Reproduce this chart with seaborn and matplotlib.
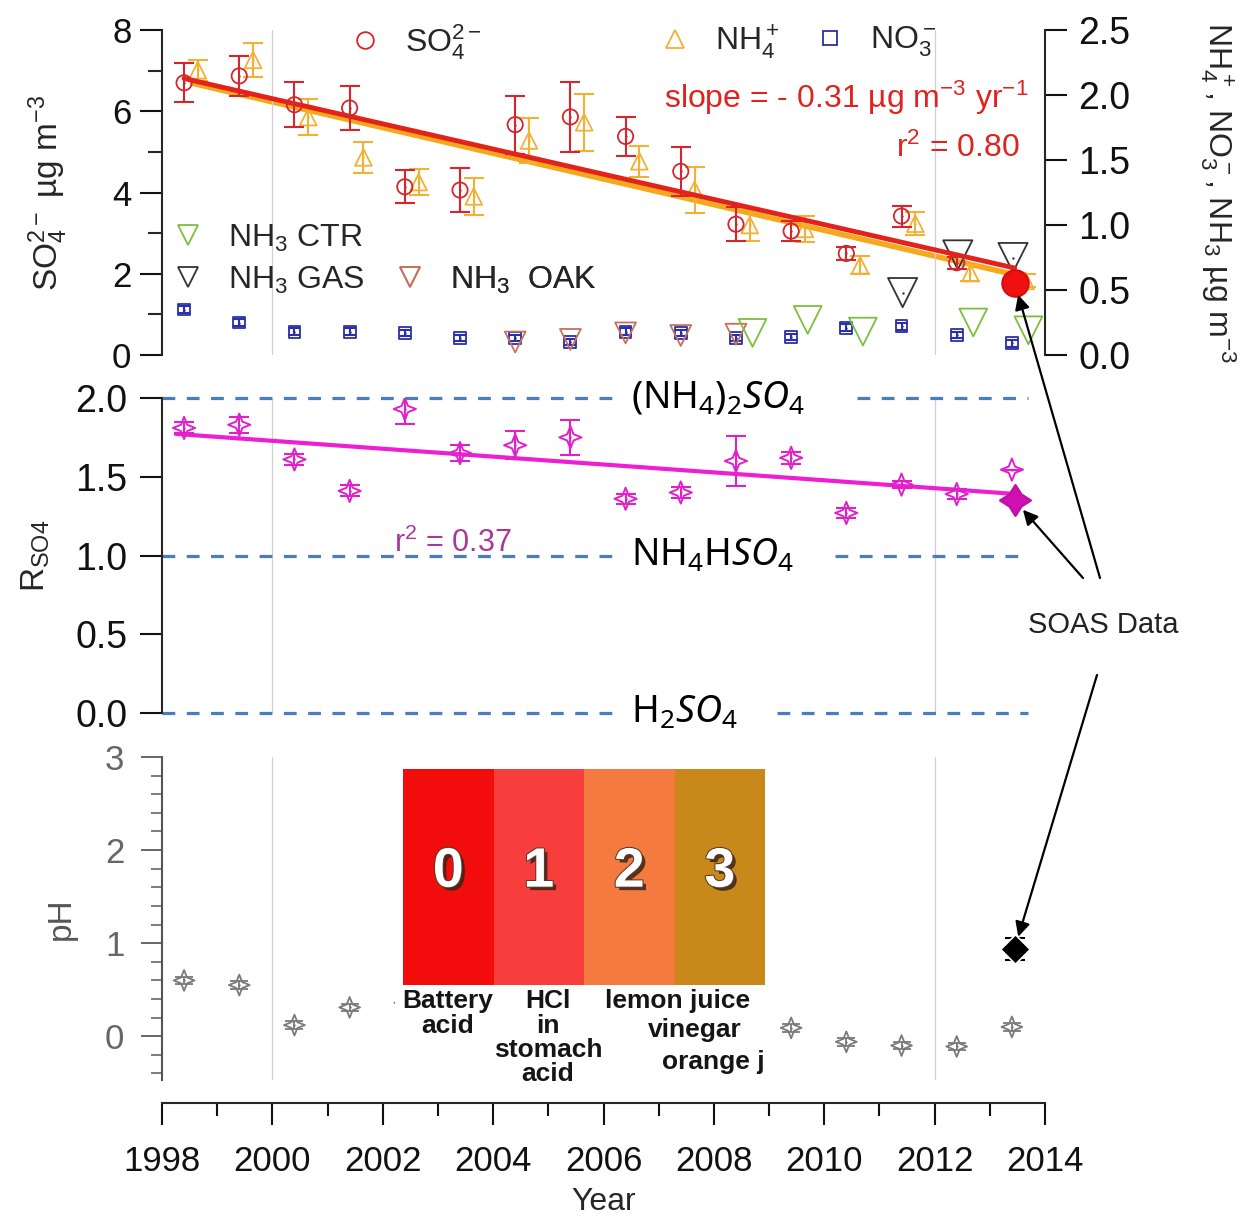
import numpy as np
import pandas as pd
import matplotlib
matplotlib.use("Agg")
import matplotlib.pyplot as plt
import matplotlib.patheffects as pe
from matplotlib.lines import Line2D
from matplotlib.path import Path
from matplotlib.ticker import MultipleLocator, FormatStrFormatter
import seaborn as sns

sns.set_theme(style="ticks")
plt.rcParams["font.family"] = ["Liberation Sans", "DejaVu Sans"]
plt.rcParams["mathtext.fontset"] = "custom"
plt.rcParams["mathtext.rm"] = "Liberation Sans"
plt.rcParams["mathtext.it"] = "Noto Sans:italic"
plt.rcParams["mathtext.default"] = "regular"
plt.rcParams["axes.linewidth"] = 1.5

# ---------------- data ----------------
years = np.arange(1998, 2013)          # annual means, 1998-2012
so4 = [6.70, 6.87, 6.16, 6.08, 4.14, 4.06, 5.67, 5.86, 5.38, 4.52, 3.22, 3.05, 2.50, 3.42, 2.27]
so4_err = [0.48, 0.49, 0.55, 0.53, 0.41, 0.55, 0.71, 0.86, 0.47, 0.60, 0.42, 0.25, 0.17, 0.26, 0.15]

nh4_years = np.arange(1998, 2014)
nh4 = [2.19, 2.27, 1.83, 1.52, 1.33, 1.22, 1.65, 1.79, 1.49, 1.27, 1.00, 0.97, 0.69, 1.01, 0.63, 0.57]
nh4_err = [0.08, 0.13, 0.14, 0.12, 0.10, 0.14, 0.17, 0.22, 0.12, 0.18, 0.12, 0.10, 0.07, 0.09, 0.06, 0.05]

no3_years = np.arange(1998, 2014)
no3 = [0.35, 0.25, 0.18, 0.18, 0.17, 0.13, 0.13, 0.10, 0.18, 0.17, 0.13, 0.14, 0.21, 0.22, 0.155, 0.09]
no3_err = [0.025] * 16

nh3_oak_years = [2004, 2005, 2006, 2007, 2008]
nh3_oak = [0.10, 0.12, 0.17, 0.15, 0.16]
nh3_ctr_years = [2008, 2009, 2010, 2012, 2013]
nh3_ctr = [0.17, 0.27, 0.18, 0.25, 0.19]
nh3_gas_years = [2011, 2012, 2013]
nh3_gas = [0.48, 0.77, 0.75]

rso4_years = np.arange(1998, 2014)
rso4 = [1.81, 1.83, 1.61, 1.41, 1.93, 1.65, 1.70, 1.75, 1.36, 1.40, 1.60, 1.62, 1.27, 1.45, 1.39, 1.545]
rso4_err = [0.035, 0.05, 0.035, 0.035, 0.095, 0.05, 0.09, 0.11, 0.03, 0.035, 0.16, 0.04, 0.03, 0.02, 0.03, 0.0]

ph_years = np.arange(1998, 2014)
ph = [0.60, 0.55, 0.12, 0.31, 0.36, np.nan, np.nan, np.nan, np.nan, np.nan, np.nan,
      0.09, -0.06, -0.10, -0.11, 0.10]
ph_err = [0.04] * 16

# SOAS campaign (2013)
soas_year = 2013
soas_so4 = 1.78
soas_rso4 = 1.35
soas_ph = 0.94
soas_ph_err = 0.12

so4_slope = -0.31          # µg m-3 yr-1
so4_r2 = 0.80
rso4_r2 = 0.37

ph_scale = [0, 1, 2, 3]
ph_scale_colors = ["#F20C0C", "#F83D3D", "#F57A40", "#C8891A"]

# ---------------- styling ----------------
c_so4 = "#D7262B"
c_nh4 = "#F2B134"
c_no3 = "#2B2FA8"
c_ctr = "#7CBF3E"
c_gas = "#333333"
c_oak = "#C8705E"
c_rso4 = "#E020C8"
c_rline = "#EE1FD3"
c_dash = "#4A7CC4"
c_ph = "#7A7A7A"

W, H = 1253, 1219
fig = plt.figure(figsize=(W / 100, H / 100), dpi=100)


def rect(x0, y0, x1, y1):
    return [x0 / W, 1 - y1 / H, (x1 - x0) / W, (y1 - y0) / H]


ax_top = fig.add_axes(rect(162, 30, 1045, 355))
ax_r = ax_top.twinx()
ax_mid = fig.add_axes(rect(162, 398, 1045, 713))
ax_bot = fig.add_axes(rect(162, 757, 1045, 1080))

ax_top.set_zorder(3)
ax_r.set_zorder(2)
for a in (ax_top, ax_r, ax_mid, ax_bot):
    a.patch.set_visible(False)
    a.set_xlim(1998, 2014)


def star_marker(r_in):
    d = r_in * 0.707
    verts = [(0, 1), (d, d), (1, 0), (d, -d), (0, -1), (-d, -d), (-1, 0), (-d, d), (0, 1)]
    return Path(verts, [Path.MOVETO] + [Path.LINETO] * 7 + [Path.CLOSEPOLY])


star = star_marker(0.40)
fat_star = star_marker(0.55)


def points(ax, x, y, marker, color, size, lw=1.3, fill="none", dot=True, z=4):
    df = pd.DataFrame({"x": x, "y": y}).dropna()
    sns.scatterplot(data=df, x="x", y="y", marker=marker, s=size ** 2, facecolor=fill,
                    edgecolor=color, linewidth=lw, ax=ax, zorder=z, legend=False)
    if dot:
        sns.scatterplot(data=df, x="x", y="y", marker="o", s=3, color=color,
                        linewidth=0, ax=ax, zorder=z + 0.1, legend=False)


def bars(ax, x, y, err, color, cap, lw=1.5):
    ax.errorbar(x, y, yerr=err, fmt="none", ecolor=color, elinewidth=lw,
                capsize=cap, capthick=lw, zorder=3)


# ---------------- top panel ----------------
x_so4 = years + 0.4
x_nh4 = nh4_years + 0.65
x_no3 = no3_years + 0.4

for x in (2000, 2012):
    ax_top.axvline(x, color="#d0d0d0", lw=0.9, zorder=0)

# regression lines
so4_x_all = np.append(x_so4, soas_year + 0.45)
so4_y_all = np.append(so4, soas_so4)
so4_icpt = so4_y_all.mean() - so4_slope * so4_x_all.mean()
fit_x = np.array([x_so4[0], soas_year + 0.45])
nh4_coef = np.polyfit(x_nh4, nh4, 1)
nh4_fit_x = np.array([x_nh4[0] - 0.1, x_nh4[-1]])
sns.lineplot(x=nh4_fit_x, y=np.polyval(nh4_coef, nh4_fit_x), color="#F5A81C", lw=4, ax=ax_r, zorder=3)
sns.lineplot(x=fit_x, y=so4_icpt + so4_slope * fit_x, color="#E4221C", lw=3.5, ax=ax_top, zorder=3.5)

bars(ax_r, x_nh4, nh4, nh4_err, c_nh4, 7)
points(ax_r, x_nh4, nh4, "^", c_nh4, 12)
bars(ax_r, x_no3, no3, no3_err, c_no3, 4.5)
points(ax_r, x_no3, no3, "s", c_no3, 8.5)
points(ax_r, np.array(nh3_oak_years) + 0.4, nh3_oak, "v", c_oak, 15, dot=False)
points(ax_r, np.array(nh3_ctr_years) + 0.7, nh3_ctr, "v", c_ctr, 20, dot=False)
points(ax_r, np.array(nh3_gas_years) + 0.42, nh3_gas, "v", c_gas, 21)

bars(ax_top, x_so4, so4, so4_err, c_so4, 7.5)
points(ax_top, x_so4, so4, "o", c_so4, 11)
sns.scatterplot(x=[soas_year + 0.45], y=[soas_so4], s=19 ** 2, color="#F01010",
                edgecolor="#D01010", ax=ax_top, zorder=6, legend=False)

ax_top.set_ylim(0, 8)
ax_r.set_ylim(0, 2.5)
ax_top.yaxis.set_major_locator(MultipleLocator(2))
ax_top.yaxis.set_minor_locator(MultipleLocator(1))
ax_r.yaxis.set_major_locator(MultipleLocator(0.5))
ax_r.yaxis.set_major_formatter(FormatStrFormatter("%.1f"))
for s in ("top", "bottom", "right"):
    ax_top.spines[s].set_visible(False)
for s in ("top", "bottom", "left"):
    ax_r.spines[s].set_visible(False)
ax_top.tick_params(axis="x", bottom=False, labelbottom=False)
ax_r.tick_params(axis="x", bottom=False, labelbottom=False)
ax_top.tick_params(axis="y", which="major", length=16, width=1.5, labelsize=25, pad=6, colors="#111111")
ax_top.tick_params(axis="y", which="minor", length=10, width=1.5)
ax_r.tick_params(axis="y", which="major", length=16, width=1.5, labelsize=27, pad=8, colors="#111111")
ax_top.set_xlabel("")
ax_r.set_xlabel("")
ax_top.set_ylabel(r"SO$_4^{2-}$ µg m$^{-3}$", fontsize=24, labelpad=0)
ax_top.yaxis.set_label_coords(-0.104, 0.5)
ax_r.set_ylabel(r"NH$_4^+$, NO$_3^-$, NH$_3$ µg m$^{-3}$", fontsize=23, rotation=270, labelpad=0)
ax_r.yaxis.set_label_coords(1.218, 0.5)

ax_top.text(2007.1, 8.0 - (98 - 30) / 40.6, r"slope = - %.2f µg m$^{-3}$ yr$^{-1}$" % abs(so4_slope),
            color="#E0231F", fontsize=23, ha="left", va="center", zorder=7)
ax_top.text(2013.55, 8.0 - (148 - 30) / 40.6, r"r$^2$ = %.2f" % so4_r2,
            color="#E0231F", fontsize=23, ha="right", va="center", zorder=7)


# legend keys
def key(ax, handle, label, xp, yp, fs=23):
    bb = ax.get_position()
    x = ((xp - 16) / W - bb.x0) / bb.width
    y = ((1 - yp / H) - bb.y0) / bb.height
    leg = ax.legend(handles=[handle], labels=[label], loc="center left", bbox_to_anchor=(x, y),
                    frameon=False, fontsize=fs, handlelength=1.0, handletextpad=0.75,
                    borderpad=0, borderaxespad=0)
    ax.add_artist(leg)


def h(marker, color, ms):
    return Line2D([], [], marker=marker, ls="", mfc="none", mec=color, ms=ms, mew=1.3)


key(ax_top, h("o", c_so4, 12), r"SO$_4^{2-}$", 365, 42)
key(ax_top, h("^", c_nh4, 13), r"NH$_4^+$", 675, 42)
key(ax_top, h("s", c_no3, 10), r"NO$_3^-$", 830, 42)
key(ax_top, h("v", c_ctr, 14), r"NH$_3$ CTR", 188, 238)
key(ax_top, h("v", c_gas, 14), r"NH$_3$ GAS", 188, 280)
key(ax_top, h("v", c_oak, 14), r"NH$_3$  OAK", 410, 280)

# ---------------- middle panel ----------------
x_r = rso4_years + 0.4
ax_mid.axvline(2000, color="#d0d0d0", lw=0.9, zorder=0)
ax_mid.axvline(2012, color="#d0d0d0", lw=0.9, zorder=0)
r_coef = np.polyfit(np.append(x_r, soas_year + 0.45), np.append(rso4, soas_rso4), 1)
r_fit_x = np.array([x_r[0] - 0.15, soas_year + 0.45])
sns.lineplot(x=r_fit_x, y=np.polyval(r_coef, r_fit_x), color=c_rline, lw=3, ax=ax_mid, zorder=3)
bars(ax_mid, x_r, rso4, rso4_err, c_rso4, 7)
points(ax_mid, x_r, rso4, star, c_rso4, 16, lw=1.4)
sns.scatterplot(x=[soas_year + 0.45], y=[soas_rso4], marker=fat_star, s=22 ** 2, color="#D010B0",
                edgecolor="#C010A8", ax=ax_mid, zorder=6, legend=False)

ref_levels = [2.0, 1.0, 0.0]
ref_names = [r"(NH$_4$)$_2$$\mathit{SO}_4$", r"NH$_4$H$\mathit{SO}_4$", r"H$_2$$\mathit{SO}_4$"]
gap_ends = [2010.6, 2010.2, 2009.15]
for lev, name, g1 in zip(ref_levels, ref_names, gap_ends):
    ax_mid.plot([1998, 2006.15], [lev, lev], ls=(0, (4, 3.6)), color=c_dash, lw=2.3, clip_on=False, zorder=2)
    ax_mid.plot([g1, 2013.7], [lev, lev], ls=(0, (4, 3.6)), color=c_dash, lw=2.3, clip_on=False, zorder=2)
    ax_mid.text(2006.5, lev, name, fontsize=27, family=["Noto Sans", "DejaVu Sans"],
                ha="left", va="center", color="black", clip_on=False)

ax_mid.text(2002.2, 1.0 + (555 - 543) / 157.5, r"r$^2$ = %.2f" % rso4_r2, color="#A8389A",
            fontsize=22, ha="left", va="center", zorder=5)

ax_mid.set_ylim(0, 2)
ax_mid.yaxis.set_major_locator(MultipleLocator(0.5))
ax_mid.yaxis.set_major_formatter(FormatStrFormatter("%.1f"))
for s in ("top", "bottom", "right"):
    ax_mid.spines[s].set_visible(False)
ax_mid.tick_params(axis="x", bottom=False, labelbottom=False)
ax_mid.tick_params(axis="y", length=16, width=1.5, labelsize=27, pad=9, colors="#111111")
ax_mid.set_xlabel("")
ax_mid.set_ylabel(r"R$_{SO4}$", fontsize=24)
ax_mid.yaxis.set_label_coords(-0.125, 0.5)

# ---------------- bottom panel ----------------
x_ph = ph_years + 0.4
ax_bot.axvline(2000, color="#d0d0d0", lw=0.9, zorder=0)
ax_bot.axvline(2012, color="#d0d0d0", lw=0.9, zorder=0)
bars(ax_bot, x_ph, ph, ph_err, c_ph, 6.5, lw=1.3)
points(ax_bot, x_ph, ph, star, c_ph, 15, lw=1.3)
ax_bot.errorbar([soas_year + 0.45], [soas_ph], yerr=[soas_ph_err], fmt="none", ecolor="black",
                elinewidth=1.5, capsize=7, capthick=1.5, zorder=5)
sns.scatterplot(x=[soas_year + 0.45], y=[soas_ph], marker="D", s=15 ** 2, color="black",
                ax=ax_bot, zorder=6, legend=False)

ax_bot.set_ylim(-0.47, 3)
ax_bot.yaxis.set_major_locator(MultipleLocator(1))
ax_bot.yaxis.set_minor_locator(MultipleLocator(0.2))
ax_bot.xaxis.set_major_locator(MultipleLocator(2))
ax_bot.xaxis.set_minor_locator(MultipleLocator(1))
for s in ("top", "right"):
    ax_bot.spines[s].set_visible(False)
ax_bot.spines["bottom"].set_position(("outward", 16.5))
ax_bot.spines["left"].set_color("#555555")
ax_bot.tick_params(axis="y", which="major", length=15, width=1.4, labelsize=25, pad=12,
                   colors="#666666")
ax_bot.tick_params(axis="y", which="minor", length=8, width=1.2, colors="#666666")
ax_bot.tick_params(axis="x", which="major", length=16, width=1.5, labelsize=25, pad=14,
                   colors="#111111")
ax_bot.tick_params(axis="x", which="minor", length=9, width=1.5, colors="#111111")
ax_bot.set_ylabel("pH", fontsize=24, color="#555555")
ax_bot.yaxis.set_label_coords(-0.096, 0.5)
ax_bot.set_xlabel("Year", fontsize=23)
ax_bot.xaxis.set_label_coords(0.5, -0.33)

# ---------------- pH scale inset ----------------
ins = fig.add_axes(rect(395, 748, 765, 1085), zorder=5)
ins.set_facecolor("white")
ins.set_xticks([])
ins.set_yticks([])
for s in ins.spines.values():
    s.set_visible(False)
ins.bar(ph_scale, [1] * len(ph_scale), width=1.0, color=ph_scale_colors, linewidth=0)
ins.set_xlim(-0.5 - 8 / 90.5, 3.5)
ins.set_ylim(-100 / 216, 1 + 21 / 216)
for v in ph_scale:
    ins.text(v, 0.52, str(v), color="white", fontsize=40, weight="bold", ha="center", va="center",
             path_effects=[pe.withSimplePatchShadow(offset=(2.5, -2.5), shadow_rgbFace="#3b2418", alpha=0.85),
                           pe.Stroke(linewidth=1.5, foreground="#5a3a2a"), pe.Normal()])

examples = [
    (-0.01, ["Battery", "acid"]),
    (1.10, ["HCl", "in", "stomach", "acid"]),
]
for xc, lines in examples:
    for i, ln in enumerate(lines):
        ins.text(xc, -0.075 - i * 0.113, ln, fontsize=19, weight="bold", ha="center", va="center",
                 color="#151515", clip_on=True)
ins.text(2.53, -0.075, "lemon juice", fontsize=19, weight="bold", ha="center", va="center",
         color="#151515", clip_on=True)
ins.text(2.72, -0.21, "vinegar", fontsize=19, weight="bold", ha="center", va="center",
         color="#151515", clip_on=True)
ins.text(2.36, -0.355, "orange juice", fontsize=19, weight="bold", ha="left", va="center",
         color="#151515", clip_on=True)

# ---------------- SOAS annotation ----------------
fig.text(1103 / W, 1 - 625 / H, "SOAS Data", fontsize=21, ha="center", va="center", color="#222222")
arrow = dict(arrowstyle="-|>", color="black", lw=1.6, mutation_scale=22, shrinkA=0, shrinkB=9)
ax_top.annotate("", xy=(soas_year + 0.45, soas_so4), xycoords="data",
                xytext=(1100, H - 578), textcoords="figure pixels", arrowprops=arrow,
                annotation_clip=False, zorder=10)
ax_mid.annotate("", xy=(soas_year + 0.45, soas_rso4), xycoords="data",
                xytext=(1083, H - 578), textcoords="figure pixels", arrowprops=arrow,
                annotation_clip=False, zorder=10)
ax_bot.annotate("", xy=(soas_year + 0.45, soas_ph), xycoords="data",
                xytext=(1097, H - 675), textcoords="figure pixels", arrowprops=arrow,
                annotation_clip=False, zorder=10)

fig.savefig("out.png", dpi=100, facecolor="white")
